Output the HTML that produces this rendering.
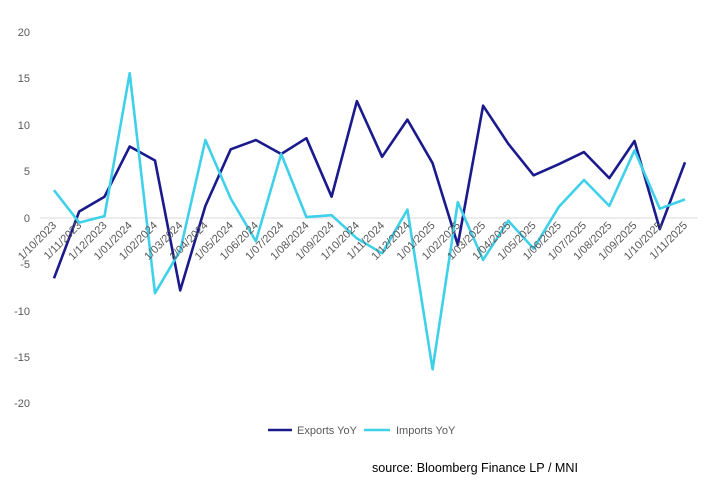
<!DOCTYPE html>
<html><head><meta charset="utf-8"><style>
body{margin:0;background:#fff}
svg{display:block;font-family:"Liberation Sans",sans-serif}
</style></head><body>
<svg width="708" height="497" viewBox="0 0 708 497" xmlns="http://www.w3.org/2000/svg">
<rect width="708" height="497" fill="#fff"/>
<g font-size="11" fill="#595959" text-anchor="end">
<text x="30" y="36">20</text>
<text x="30" y="82">15</text>
<text x="30" y="129">10</text>
<text x="30" y="175">5</text>
<text x="30" y="222">0</text>
<text x="30" y="268">-5</text>
<text x="30" y="315">-10</text>
<text x="30" y="361">-15</text>
<text x="30" y="407">-20</text>
</g>
<line x1="40" y1="218" x2="698" y2="218" stroke="#d9d9d9" stroke-width="1"/>
<polyline fill="none" stroke="#1a1a8c" stroke-width="2.6" stroke-linejoin="round" points="54,278.3 79.2,211.5 104.5,196.7 129.7,146.5 155,160.5 180.2,290.4 205.4,205.9 230.7,149.3 255.9,140 281.2,154 306.4,138.2 331.6,196.7 356.9,101.1 382.1,156.8 407.4,119.6 432.6,163.2 457.8,244.9 483.1,105.7 508.3,143.8 533.6,175.3 558.8,164.2 584,152.1 609.3,178.1 634.5,141 659.8,229.1 685,162.3"/>
<polyline fill="none" stroke="#3fd0ea" stroke-width="2.6" stroke-linejoin="round" points="54,190.2 79.2,222.6 104.5,216.1 129.7,73.2 155,293.2 180.2,250.5 205.4,140 230.7,198.5 255.9,241.2 281.2,154 306.4,217.1 331.6,215.2 356.9,238.4 382.1,253.3 407.4,209.6 432.6,369.3 457.8,202.2 483.1,259.8 508.3,220.8 533.6,248.6 558.8,206.9 584,180 609.3,205.9 634.5,150.3 659.8,208.7 685,199.4"/>
<g font-size="11" fill="#595959" text-anchor="end">
<text transform="translate(57,226) rotate(-45)">1/10/2023</text>
<text transform="translate(82.2,226) rotate(-45)">1/11/2023</text>
<text transform="translate(107.5,226) rotate(-45)">1/12/2023</text>
<text transform="translate(132.7,226) rotate(-45)">1/01/2024</text>
<text transform="translate(158,226) rotate(-45)">1/02/2024</text>
<text transform="translate(183.2,226) rotate(-45)">1/03/2024</text>
<text transform="translate(208.4,226) rotate(-45)">1/04/2024</text>
<text transform="translate(233.7,226) rotate(-45)">1/05/2024</text>
<text transform="translate(258.9,226) rotate(-45)">1/06/2024</text>
<text transform="translate(284.2,226) rotate(-45)">1/07/2024</text>
<text transform="translate(309.4,226) rotate(-45)">1/08/2024</text>
<text transform="translate(334.6,226) rotate(-45)">1/09/2024</text>
<text transform="translate(359.9,226) rotate(-45)">1/10/2024</text>
<text transform="translate(385.1,226) rotate(-45)">1/11/2024</text>
<text transform="translate(410.4,226) rotate(-45)">1/12/2024</text>
<text transform="translate(435.6,226) rotate(-45)">1/01/2025</text>
<text transform="translate(460.8,226) rotate(-45)">1/02/2025</text>
<text transform="translate(486.1,226) rotate(-45)">1/03/2025</text>
<text transform="translate(511.3,226) rotate(-45)">1/04/2025</text>
<text transform="translate(536.6,226) rotate(-45)">1/05/2025</text>
<text transform="translate(561.8,226) rotate(-45)">1/06/2025</text>
<text transform="translate(587,226) rotate(-45)">1/07/2025</text>
<text transform="translate(612.3,226) rotate(-45)">1/08/2025</text>
<text transform="translate(637.5,226) rotate(-45)">1/09/2025</text>
<text transform="translate(662.8,226) rotate(-45)">1/10/2025</text>
<text transform="translate(688,226) rotate(-45)">1/11/2025</text>
</g>
<line x1="268" y1="430" x2="292" y2="430" stroke="#1a1a8c" stroke-width="2.6"/>
<text x="297" y="434" font-size="11" fill="#595959">Exports YoY</text>
<line x1="364" y1="430" x2="390" y2="430" stroke="#3fd0ea" stroke-width="2.6"/>
<text x="396" y="434" font-size="11" fill="#595959">Imports YoY</text>
<text x="372" y="472" font-size="12.5" fill="#000" textLength="206" lengthAdjust="spacingAndGlyphs">source: Bloomberg Finance LP / MNI</text>
</svg>
</body></html>
